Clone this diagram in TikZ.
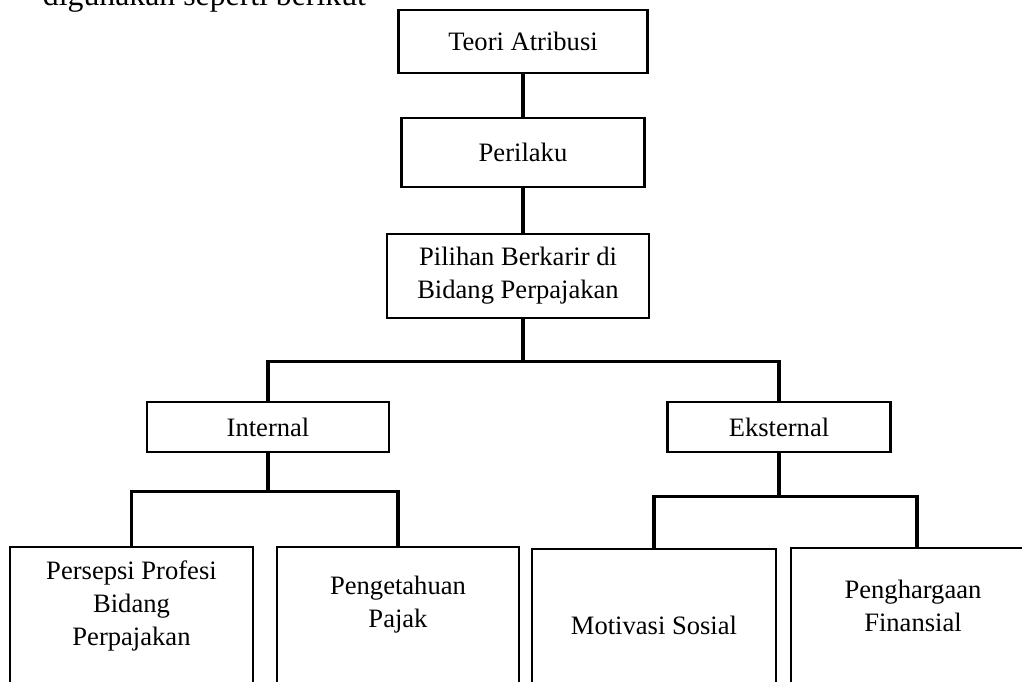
\documentclass[tikz,border=0pt]{standalone}
\usepackage{fontspec}
\setmainfont{Liberation Serif}
\usetikzlibrary{positioning}

\begin{document}
\begin{tikzpicture}[x=0.025cm,y=-0.025cm,
  box/.style={draw,line width=1.7pt,align=center,font=\fontsize{18.9}{23.5}\selectfont},
  frame/.style={draw,line width=1.7pt,anchor=north,minimum height=5cm},
  txt/.style={align=center,font=\fontsize{18.9}{23.5}\selectfont},
  conn/.style={line width=2.3pt}
]
\useasboundingbox (0,0) rectangle (1022,682);
\node[anchor=base west,font=\fontsize{22.6}{27}\selectfont] (intro) at (38,5.5) {digunakan seperti berikut};

\node[box,minimum width=6.225cm,minimum height=1.575cm] (teori) at (523,41.5) {Teori Atribusi};
\node[box,minimum width=6.075cm,minimum height=1.725cm] (perilaku) at (523,152.5) {Perilaku};
\node[box,minimum width=6.55cm,minimum height=2.1cm] (pilihan) at (518,276) {Pilihan Berkarir di\\Bidang Perpajakan};
\node[box,minimum width=6.05cm,minimum height=1.25cm] (internal) at (268,427) {Internal};
\node[box,minimum width=5.575cm,minimum height=1.25cm] (eksternal) at (779,427) {Eksternal};
\draw[conn] (teori) -- (perilaku);
\draw[conn] (perilaku) -- (perilaku |- pilihan.north);
\draw[conn] (perilaku |- pilihan.south) -- ++(0,42) coordinate (topbar);
\draw[conn] (internal.north) |- (topbar) -| (eksternal.north);

\node[frame,minimum width=6.08cm] (persepsi) at (131.5,546) {};
\node[frame,minimum width=6.05cm] (pengetahuan) at (398,546) {};
\node[frame,minimum width=6.1cm] (motivasi) at (654,548) {};
\node[frame,minimum width=6.3cm] (penghargaan) at (917,547) {};
\node[txt] (persepsi-txt) at (131.5,606) {Persepsi Profesi\\Bidang\\Perpajakan};
\node[txt] (pengetahuan-txt) at (398,605) {Pengetahuan\\Pajak};
\node[txt] (motivasi-txt) at (654,625) {Motivasi Sosial};
\node[txt] (penghargaan-txt) at (913,606) {Penghargaan\\Finansial};
\draw[conn] (internal.south) -- ++(0,38) coordinate (intbar);
\draw[conn] (persepsi.north) |- (intbar) -| (pengetahuan.north);
\draw[conn] (eksternal.south) -- ++(0,43) coordinate (eksbar);
\draw[conn] (motivasi.north) |- (eksbar) -| (penghargaan.north);
\end{tikzpicture}
\end{document}
